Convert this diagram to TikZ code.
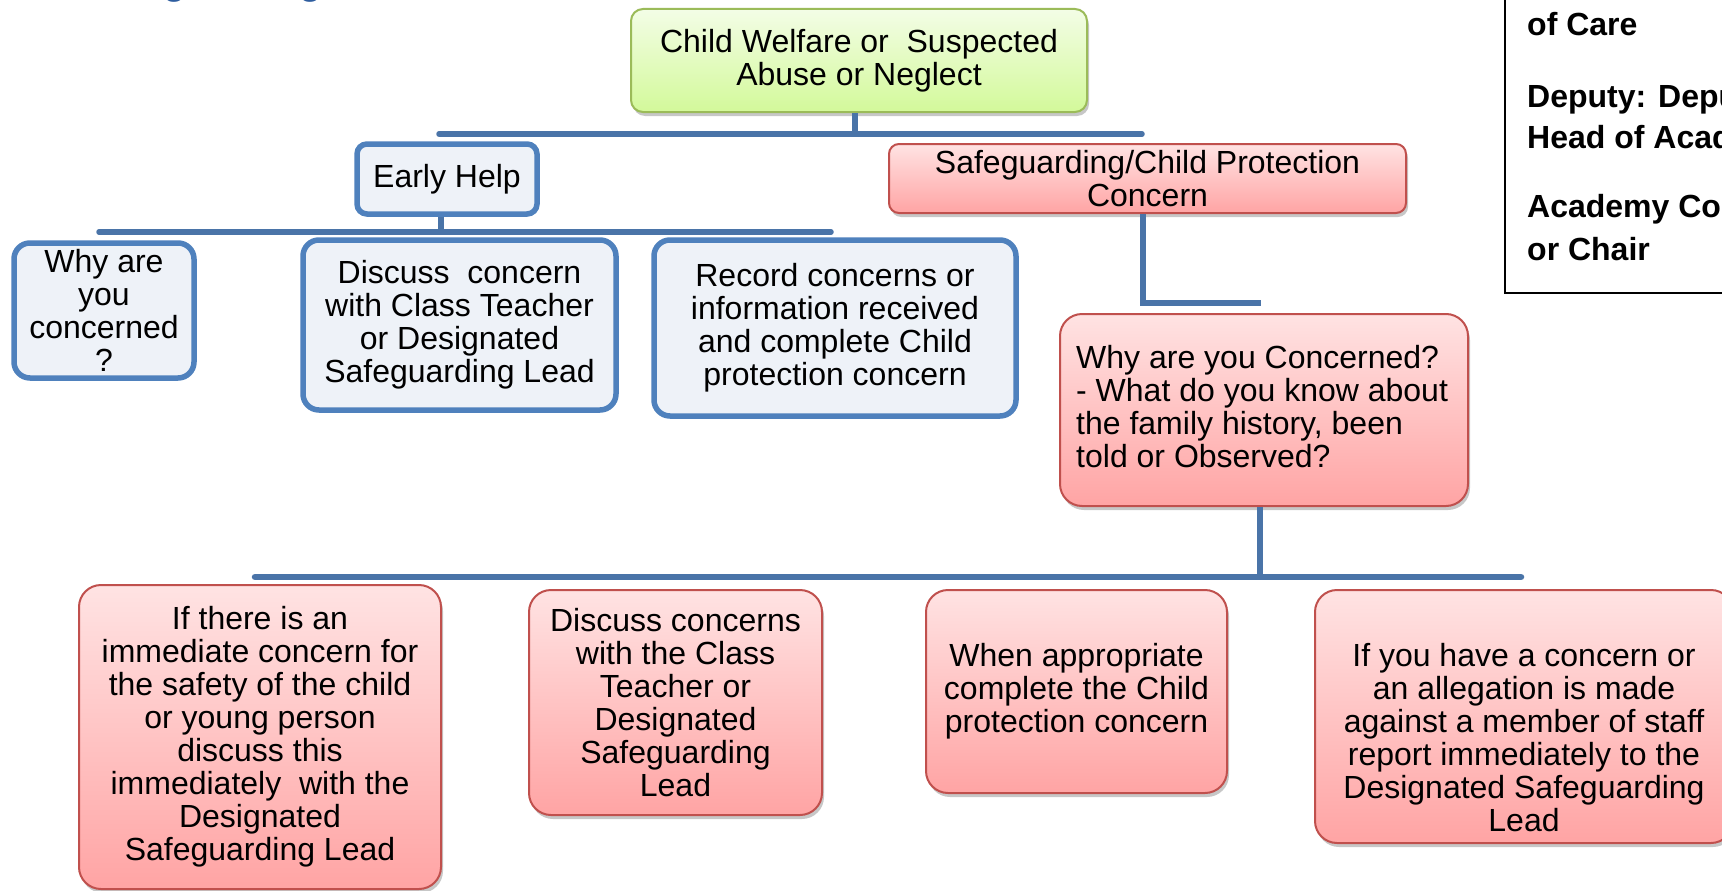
\documentclass[tikz,border=0pt]{standalone}
\usepackage{fontspec}
\setmainfont{Liberation Sans}
\usetikzlibrary{shadows,backgrounds}
\definecolor{conn}{HTML}{4A74A8}
\definecolor{bborder}{HTML}{4F81BD}
\definecolor{bfill}{HTML}{EEF2F8}
\definecolor{rtop}{HTML}{FFE3E3}
\definecolor{rbot}{HTML}{FFA4A4}
\definecolor{rborder}{HTML}{C0504D}
\definecolor{gtop}{HTML}{F3FDE6}
\definecolor{gbot}{HTML}{D3F99A}
\definecolor{gborder}{HTML}{9BBB59}
\definecolor{titleblue}{HTML}{2E5D9F}
\begin{document}
\begin{tikzpicture}[x=1pt,y=-1pt,
  txt/.style={font=\fontsize{32}{33}\selectfont, align=center, inner sep=0pt},
  bluebox/.style={draw=bborder, line width=5.5pt, fill=bfill, rounded corners=16pt, inner sep=0pt, txt},
  shadowed/.style={drop shadow={shadow xshift=2pt, shadow yshift=-4pt, opacity=0.22, fill=black}},
  redbox/.style={draw=rborder, line width=2pt, top color=rtop, bottom color=rbot, rounded corners=22pt, inner sep=0pt, shadowed, txt},
  greenbox/.style={draw=gborder, line width=2pt, top color=gtop, bottom color=gbot, rounded corners=14pt, inner sep=0pt, shadowed, txt},
  behind/.style={draw=bborder, line width=2.5pt},
  link/.style={draw=conn, line width=5.5pt},
  info/.style={font=\bfseries\fontsize{32}{38}\selectfont, anchor=base west, inner sep=0pt},
]
\useasboundingbox (0,0) rectangle (1722,891);
\clip (0,0) rectangle (1722,891);
\fill[white] (0,0) rectangle (1722,891);

% cut-off title
\node[font=\bfseries\fontsize{37}{40}\selectfont, text=titleblue, anchor=base west, inner sep=0pt] (title) at (85,-5) {Safeguarding};

% top-right information box
\draw[line width=2pt] (1505,-10) rectangle (1745,293);
\node[info] (i1) at (1527,36) {of Care};
\node[info] (i2) at (1527,107) {Deputy: Deputy};
\node[info] (i3) at (1527,148) {Head of Academy};
\node[info] (i4) at (1527,217) {Academy Council};
\node[info] (i5) at (1527,260) {or Chair};

% level 0
\node[greenbox, minimum width=456pt, minimum height=103pt, rounded corners=12pt] (root) at (859,60.5)
  {Child Welfare or\ \ Suspected\\Abuse or Neglect};

% level 1
\node[bluebox, minimum width=180pt, minimum height=70pt, rounded corners=10pt] (eh) at (447,179) {Early Help};
\node[redbox, minimum width=517pt, minimum height=69pt, rounded corners=10pt] (sg) at (1147.5,178.5)
  {Safeguarding/Child Protection\\Concern};

% early help children
\node[bluebox, minimum width=180pt, minimum height=135pt] (why) at (104,310.5) {Why are\\you\\concerned\\?};
\node[bluebox, minimum width=313pt, minimum height=170pt] (disc) at (459.5,325)
  {Discuss\ \ concern\\with Class Teacher\\or Designated\\Safeguarding Lead};
\node[bluebox, minimum width=362pt, minimum height=176pt] (rec) at (835,328)
  {Record concerns or\\information received\\and complete Child\\protection concern};

% safeguarding child
\node[redbox, minimum width=408pt, minimum height=192pt] (wy) at (1264,410) {};
\node[txt, align=left, anchor=west] (wyt) at (1076,407)
  {Why are you Concerned?\\- What do you know about\\the family history, been\\told or Observed?};

% bottom row
\node[redbox, minimum width=362pt, minimum height=304pt] (ba) at (260,737)
  {If there is an\\immediate concern for\\the safety of the child\\or young person\\discuss this\\immediately\ \ with the\\Designated\\Safeguarding Lead};
\node[redbox, minimum width=293pt, minimum height=225pt] (bb) at (675.5,702.5)
  {Discuss concerns\\with the Class\\Teacher or\\Designated\\Safeguarding\\Lead};
\node[redbox, minimum width=301pt, minimum height=203pt] (bc) at (1076.5,691.5)
  {When appropriate\\complete the Child\\protection concern};
\node[redbox, minimum width=418pt, minimum height=253pt] (bd) at (1524,716.5) {};
\node[txt] (bdt) at (1524,738)
  {If you have a concern or\\an allegation is made\\against a member of staff\\report immediately to the\\Designated Safeguarding\\Lead};

% blue outlines peeking behind the shaded boxes
\begin{scope}[on background layer]
\foreach \n/\r in {root/12pt, sg/10pt, wy/22pt, ba/22pt, bb/22pt, bc/22pt, bd/22pt}{
  \draw[behind, rounded corners=\r] ([shift={(-2,-2)}]\n.north west) rectangle ([shift={(-2,-2)}]\n.south east);
}
\end{scope}

% connectors
\coordinate (r1) at (855,134);
\coordinate (r1L) at (439,134);
\coordinate (r1R) at (1142,134);
\draw[link] (root.south -| r1) -- (r1);
\draw[link, line cap=round] (r1L) -- (r1R);

\coordinate (e1) at (441,232);
\coordinate (e1L) at (99,232);
\coordinate (e1R) at (831,232);
\draw[link] (eh.south -| e1) -- (e1);
\draw[link, line cap=round] (e1L) -- (e1R);

\coordinate (s1) at (1143,303);
\coordinate (s2) at (1261,303);
\draw[link] (sg.south -| s1) -- (s1) -- (s2);

\coordinate (w1) at (1260,577);
\coordinate (w1L) at (255,577);
\coordinate (w1R) at (1521,577);
\draw[link] (wy.south -| w1) -- (w1);
\draw[link, line width=6.5pt, line cap=round] (w1L) -- (w1R);
\end{tikzpicture}
\end{document}
